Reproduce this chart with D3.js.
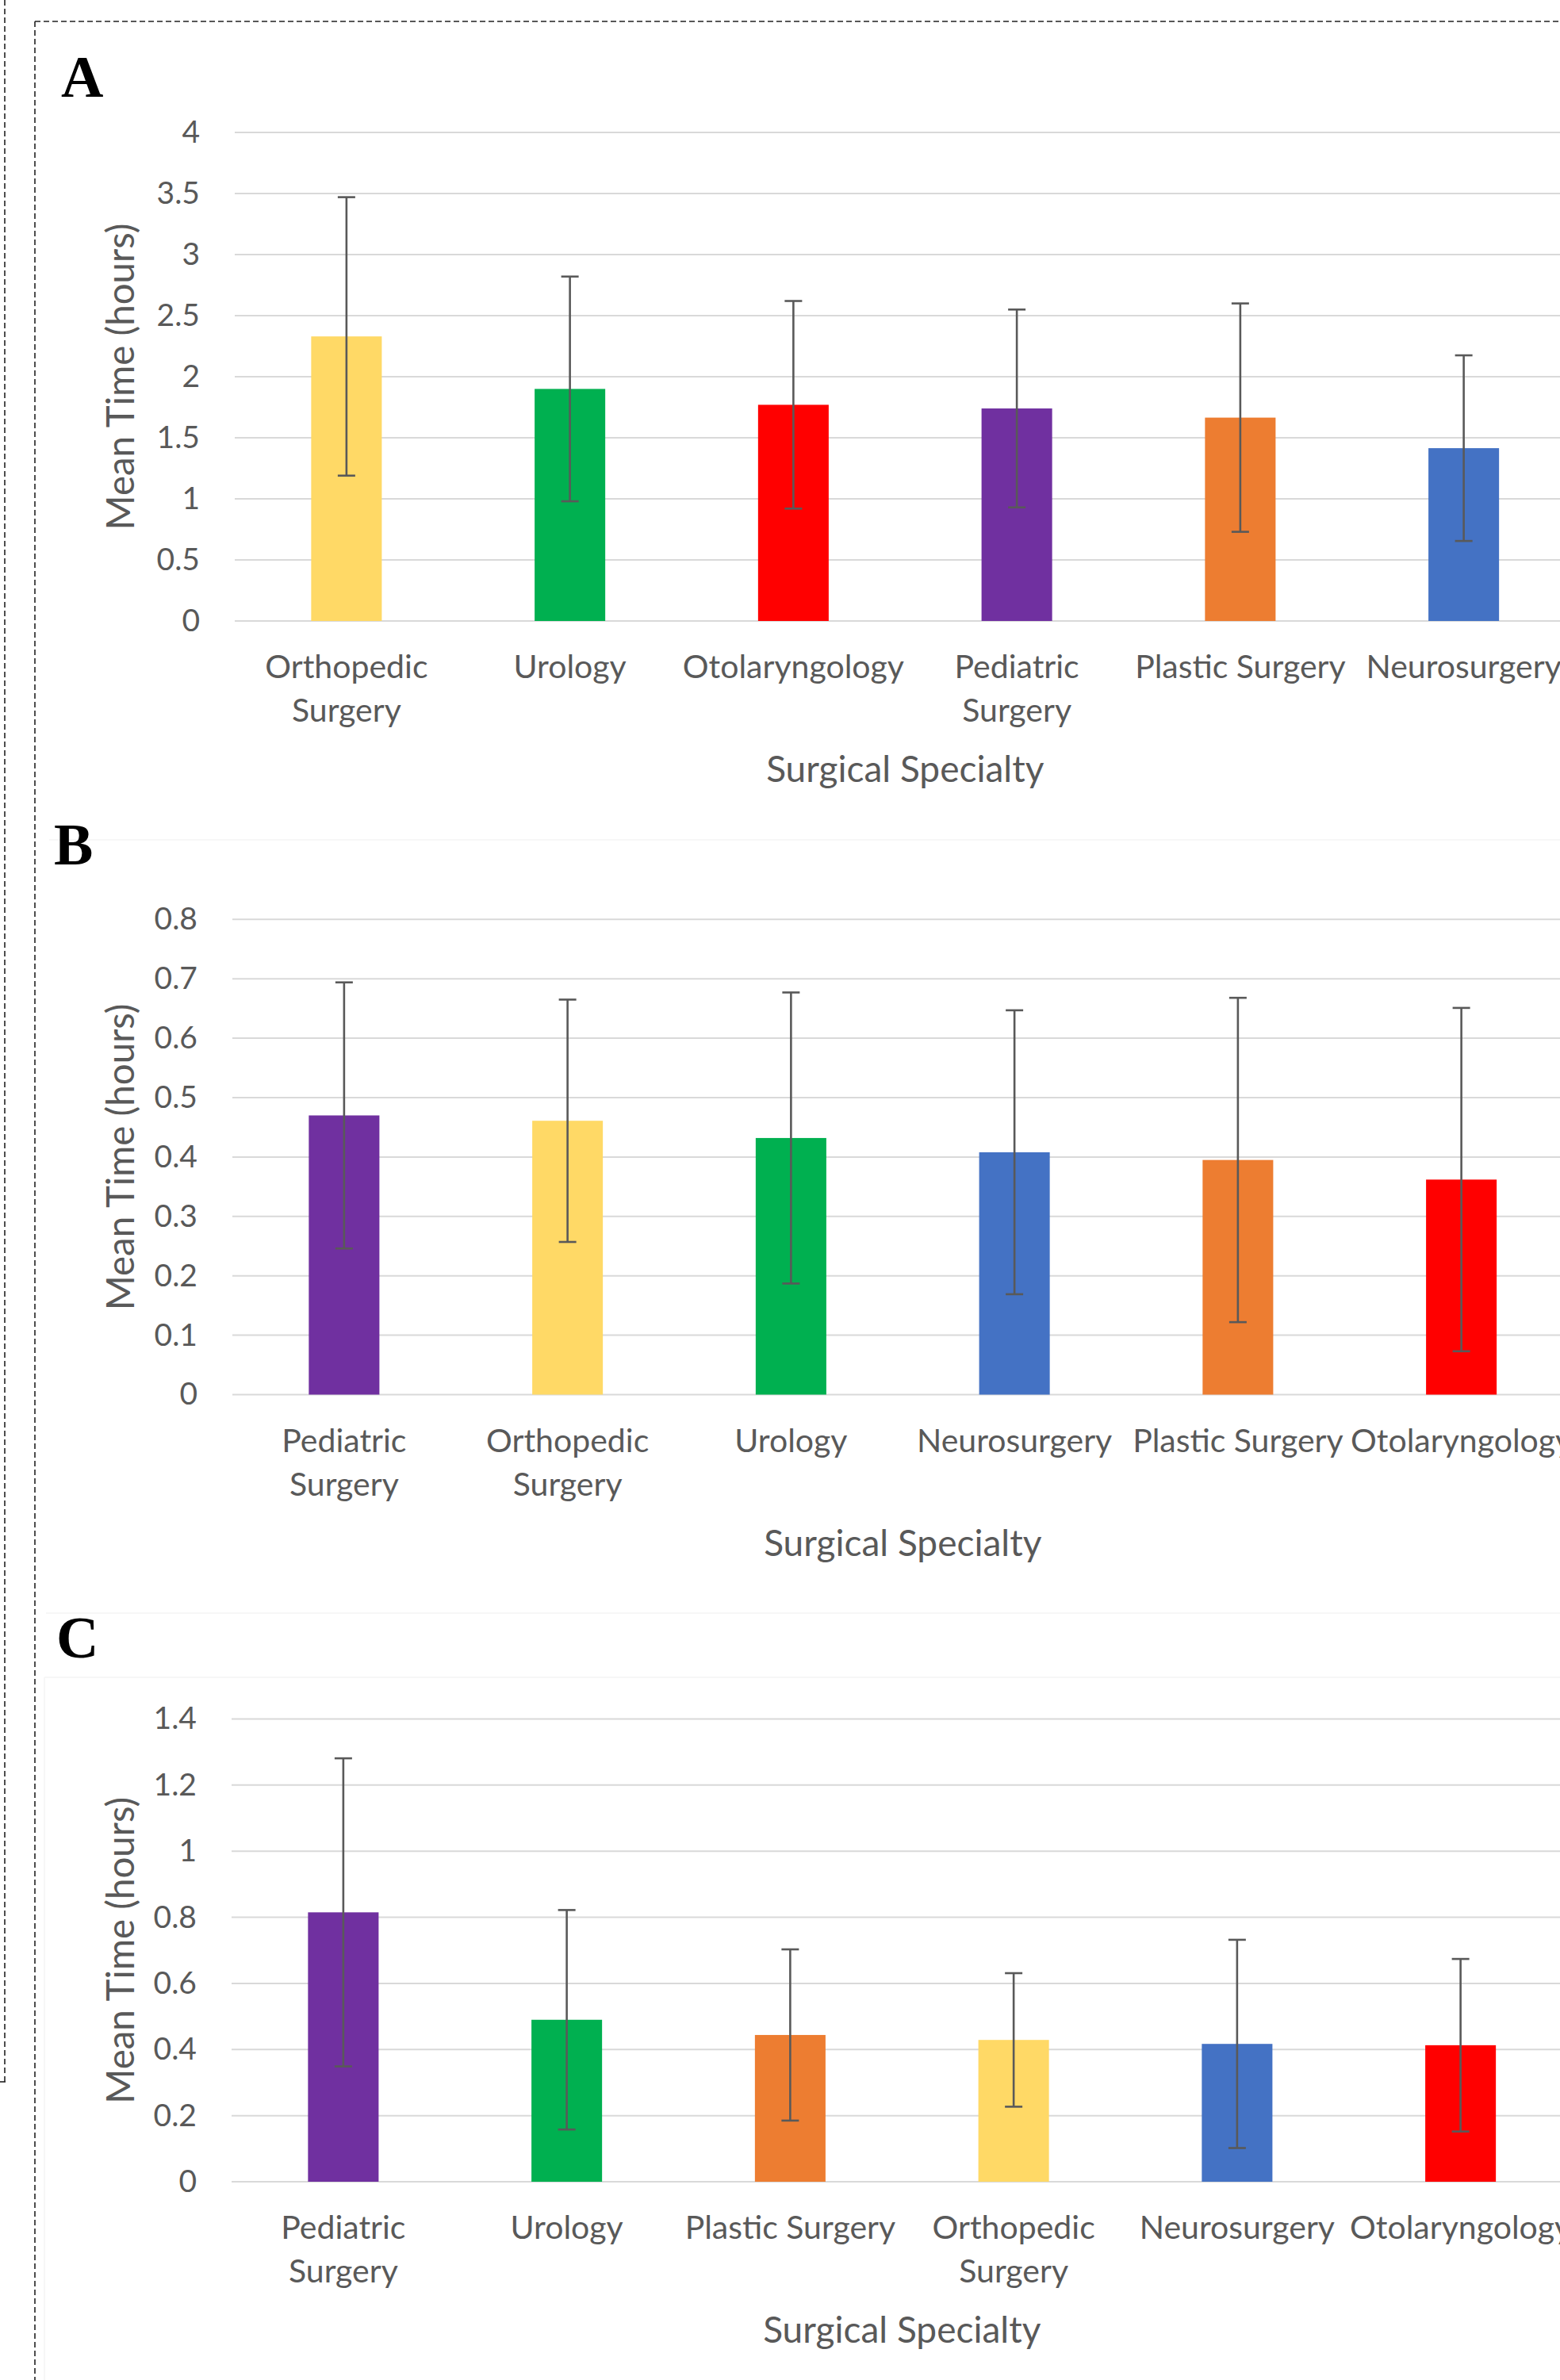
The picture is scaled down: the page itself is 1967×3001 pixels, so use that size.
<!DOCTYPE html>
<html>
<head>
<meta charset="utf-8">
<script src="https://cdn.jsdelivr.net/npm/d3@7"></script>
<style>
  html, body { margin: 0; padding: 0; background: #ffffff; }
  svg { display: block; }
</style>
</head>
<body>
<script>
// ---------------- DATA ----------------
const panelLetters = ["A", "B", "C"];

const categoriesA = ["Orthopedic Surgery", "Urology", "Otolaryngology", "Pediatric Surgery", "Plastic Surgery", "Neurosurgery"];
const meansA = [2.33, 1.90, 1.77, 1.74, 1.665, 1.415];
const sdA = [1.14, 0.92, 0.85, 0.81, 0.935, 0.76];
const yTicksA = [0, 0.5, 1, 1.5, 2, 2.5, 3, 3.5, 4];

const categoriesB = ["Pediatric Surgery", "Orthopedic Surgery", "Urology", "Neurosurgery", "Plastic Surgery", "Otolaryngology"];
const meansB = [0.470, 0.461, 0.432, 0.408, 0.395, 0.362];
const sdB = [0.224, 0.204, 0.245, 0.239, 0.273, 0.289];
const yTicksB = [0, 0.1, 0.2, 0.3, 0.4, 0.5, 0.6, 0.7, 0.8];

const categoriesC = ["Pediatric Surgery", "Urology", "Plastic Surgery", "Orthopedic Surgery", "Neurosurgery", "Otolaryngology"];
const meansC = [0.815, 0.490, 0.444, 0.429, 0.417, 0.413];
const sdC = [0.466, 0.332, 0.259, 0.202, 0.315, 0.261];
const yTicksC = [0, 0.2, 0.4, 0.6, 0.8, 1, 1.2, 1.4];

const specialtyColors = {
  "Orthopedic Surgery": "#FFD966",
  "Urology": "#00B050",
  "Otolaryngology": "#FF0000",
  "Pediatric Surgery": "#7030A0",
  "Plastic Surgery": "#ED7D31",
  "Neurosurgery": "#4472C4"
};
const wrappedLabels = ["Orthopedic Surgery", "Pediatric Surgery"];
const yAxisTitle = "Mean Time (hours)";
const xAxisTitle = "Surgical Specialty";

// ---------------- LAYOUT ----------------
const W = 1967, H = 3001;
const step = 281.75;
const panels = [
  { letter: panelLetters[0], cats: categoriesA, means: meansA, sds: sdA, ticks: yTicksA,
    left: 296, top: 167, bottom: 783, lx: 77, ly: 122 },
  { letter: panelLetters[1], cats: categoriesB, means: meansB, sds: sdB, ticks: yTicksB,
    left: 293, top: 1159.3, bottom: 1758.5, lx: 68, ly: 1090 },
  { letter: panelLetters[2], cats: categoriesC, means: meansC, sds: sdC, ticks: yTicksC,
    left: 292, top: 2167.5, bottom: 2751, lx: 71, ly: 2090 }
];

const FONT = "Lato, 'Open Sans', sans-serif";
const TXT = "#595959";

const svg = d3.select("body").append("svg")
  .attr("width", W).attr("height", H)
  .attr("viewBox", `0 0 ${W} ${H}`);

svg.append("rect").attr("width", W).attr("height", H).attr("fill", "#fff");

// faint chart-area borders
const faint = "#f4f4f4";
svg.append("line").attr("x1", 62).attr("x2", W).attr("y1", 1059).attr("y2", 1059).attr("stroke", faint).attr("stroke-width", 1.5);
svg.append("line").attr("x1", 58).attr("x2", W).attr("y1", 2034).attr("y2", 2034).attr("stroke", faint).attr("stroke-width", 1.5);
svg.append("line").attr("x1", 56).attr("x2", W).attr("y1", 2115).attr("y2", 2115).attr("stroke", faint).attr("stroke-width", 1.5);
svg.append("line").attr("x1", 56).attr("x2", 56).attr("y1", 2115).attr("y2", H).attr("stroke", faint).attr("stroke-width", 1.5);

// dashed frame lines
const dash = "7,4";
svg.append("line").attr("x1", 6).attr("x2", 6).attr("y1", 0).attr("y2", 2625)
  .attr("stroke", "#222").attr("stroke-width", 1.6).attr("stroke-dasharray", dash);
svg.append("line").attr("x1", 0).attr("x2", 7).attr("y1", 2625).attr("y2", 2625)
  .attr("stroke", "#222").attr("stroke-width", 1.6);
svg.append("line").attr("x1", 44).attr("x2", 44).attr("y1", 27).attr("y2", H)
  .attr("stroke", "#222").attr("stroke-width", 1.6).attr("stroke-dasharray", dash);
svg.append("line").attr("x1", 44).attr("x2", W).attr("y1", 27).attr("y2", 27)
  .attr("stroke", "#222").attr("stroke-width", 1.6).attr("stroke-dasharray", dash);

panels.forEach(p => {
  const g = svg.append("g");
  const right = p.left + step * p.cats.length;
  const x = d3.scaleBand().domain(p.cats).range([p.left, right])
    .paddingInner(0.684).paddingOuter(0.342);
  const y = d3.scaleLinear().domain([0, d3.max(p.ticks)]).range([p.bottom, p.top]);

  // panel letter
  g.append("text").attr("x", p.lx).attr("y", p.ly)
    .attr("font-family", "'Liberation Serif', 'Times New Roman', serif")
    .attr("font-weight", "bold").attr("font-size", 74).attr("fill", "#000")
    .text(p.letter);

  // gridlines
  g.selectAll(".grid").data(p.ticks).join("line")
    .attr("x1", p.left).attr("x2", right)
    .attr("y1", d => y(d)).attr("y2", d => y(d))
    .attr("stroke", "#d9d9d9").attr("stroke-width", 2);

  // y axis labels via d3 axis
  const yAxis = d3.axisLeft(y).tickValues(p.ticks).tickFormat(d => String(d)).tickSize(0).tickPadding(44);
  const ya = g.append("g").attr("transform", `translate(${p.left},0)`).call(yAxis);
  ya.select(".domain").remove();
  ya.selectAll("text").attr("font-family", FONT).attr("font-size", 39).attr("fill", TXT);

  // bars
  g.selectAll(".bar").data(p.cats).join("rect")
    .attr("x", d => x(d)).attr("width", x.bandwidth())
    .attr("y", (d, i) => y(p.means[i]))
    .attr("height", (d, i) => y(0) - y(p.means[i]))
    .attr("fill", d => specialtyColors[d]);

  // error bars
  const cap = 11;
  const eb = g.selectAll(".eb").data(p.cats).join("g")
    .attr("transform", d => `translate(${x(d) + x.bandwidth() / 2},0)`);
  eb.append("line").attr("x1", 0).attr("x2", 0)
    .attr("y1", (d, i) => y(p.means[i] + p.sds[i]))
    .attr("y2", (d, i) => y(p.means[i] - p.sds[i]))
    .attr("stroke", "#595959").attr("stroke-width", 2.6);
  eb.append("line").attr("x1", -cap).attr("x2", cap)
    .attr("y1", (d, i) => y(p.means[i] + p.sds[i]))
    .attr("y2", (d, i) => y(p.means[i] + p.sds[i]))
    .attr("stroke", "#595959").attr("stroke-width", 2.6);
  eb.append("line").attr("x1", -cap).attr("x2", cap)
    .attr("y1", (d, i) => y(p.means[i] - p.sds[i]))
    .attr("y2", (d, i) => y(p.means[i] - p.sds[i]))
    .attr("stroke", "#595959").attr("stroke-width", 2.6);

  // category labels
  const xl = g.selectAll(".cl").data(p.cats).join("text")
    .attr("text-anchor", "middle")
    .attr("font-family", FONT).attr("font-size", 41).attr("fill", TXT)
    .attr("transform", d => `translate(${x(d) + x.bandwidth() / 2},${y(0) + 72})`);
  xl.each(function (d) {
    const lines = wrappedLabels.includes(d) ? d.split(" ") : [d];
    d3.select(this).selectAll("tspan").data(lines).join("tspan")
      .attr("x", 0).attr("dy", (l, j) => j === 0 ? 0 : 55).text(l => l);
  });

  // x axis title
  g.append("text").attr("x", (p.left + right) / 2).attr("y", y(0) + 203)
    .attr("text-anchor", "middle").attr("font-family", FONT).attr("font-size", 46)
    .attr("fill", TXT).text(xAxisTitle);

  // y axis title
  g.append("text")
    .attr("transform", `translate(152,${(p.top + p.bottom) / 2}) rotate(-90)`)
    .attr("text-anchor", "middle").attr("dy", "0.35em")
    .attr("font-family", FONT).attr("font-size", 47.5).attr("fill", TXT)
    .text(yAxisTitle);
});
</script>
</body>
</html>
